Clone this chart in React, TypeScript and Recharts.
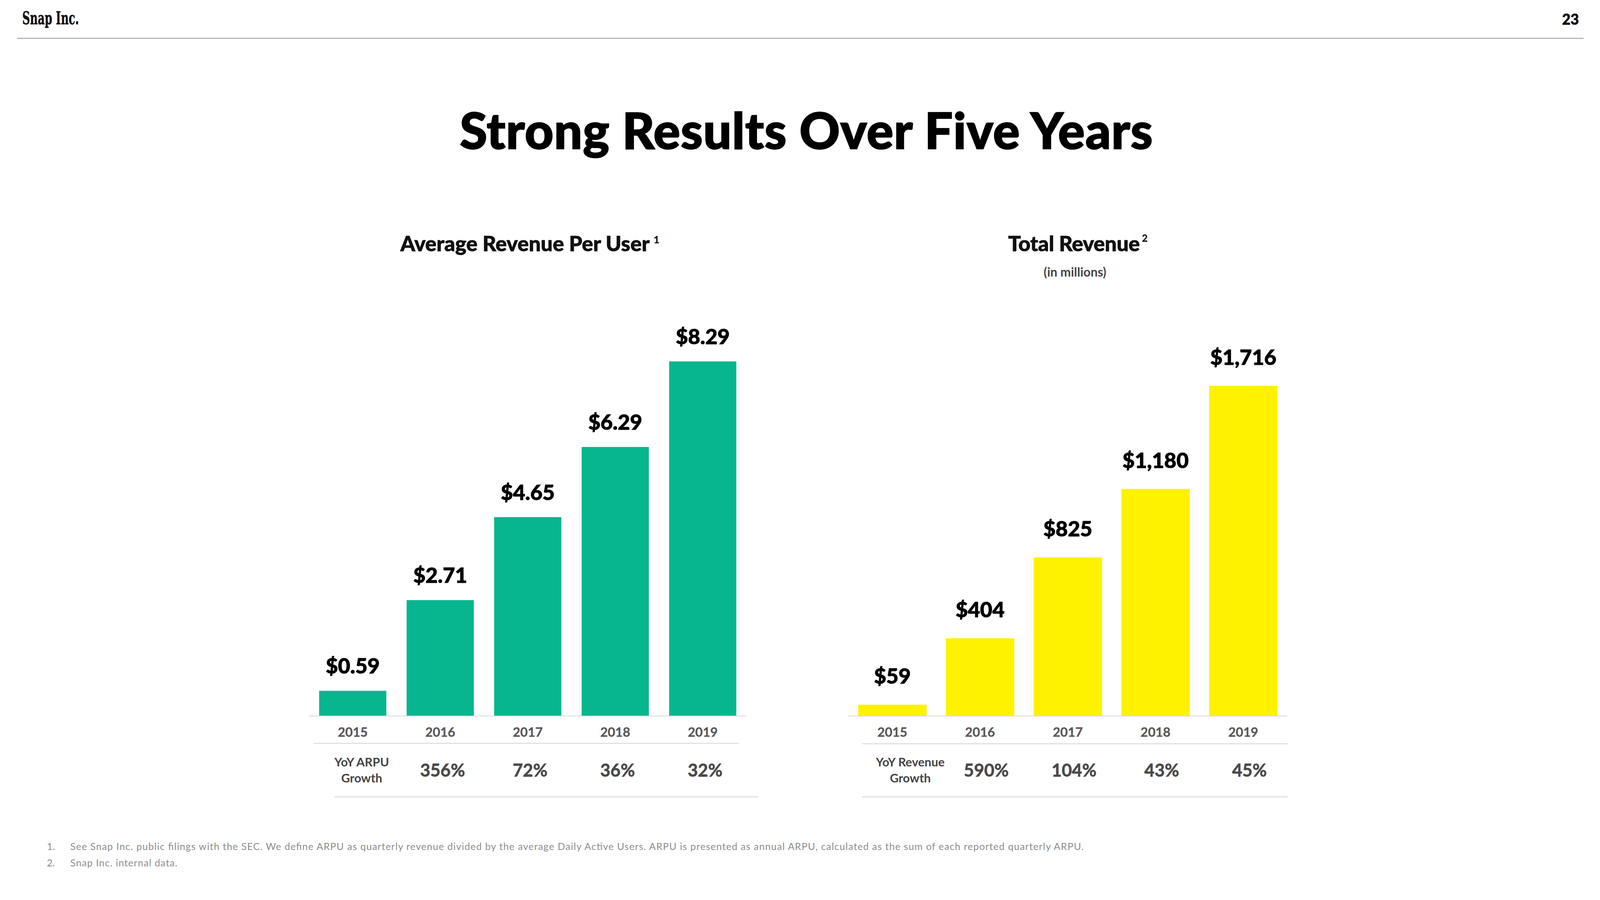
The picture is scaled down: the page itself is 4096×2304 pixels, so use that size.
import React from 'react';
import { BarChart, Bar, XAxis, YAxis, LabelList } from 'recharts';

const YEARS = ['2015', '2016', '2017', '2018', '2019'];
const ARPU = [0.59, 2.71, 4.65, 6.29, 8.29];
const ARPU_LABELS = ['$0.59', '$2.71', '$4.65', '$6.29', '$8.29'];
const ARPU_GROWTH = ['', '356%', '72%', '36%', '32%'];
const REVENUE = [59, 404, 825, 1180, 1716];
const REVENUE_LABELS = ['$59', '$404', '$825', '$1,180', '$1,716'];
const REVENUE_GROWTH = ['', '590%', '104%', '43%', '45%'];

const GREEN = '#07B68E';
const YELLOW = '#FFF200';
const FONT = "Lato, 'Open Sans', sans-serif";

const arpuData = YEARS.map((y, i) => ({ year: y, value: ARPU[i], label: ARPU_LABELS[i] }));
const revData = YEARS.map((y, i) => ({ year: y, value: REVENUE[i], label: REVENUE_LABELS[i] }));

function makeTick(growth: string[], rowLabel: string[], labelDx: number, valueDx: number) {
  return (props: any) => {
    const { x, y, payload, index } = props;
    return (
      <g fontFamily={FONT}>
        <text x={x} y={y + 53} textAnchor="middle" fontSize={33} fontWeight={700} fill="#595959" stroke="#595959" strokeWidth={0.5}>
          {payload.value}
        </text>
        {index === 0 ? (
          <g>
            <text x={x + labelDx} y={y + 129} textAnchor="middle" fontSize={31} fontWeight={700} fill="#444">
              {rowLabel[0]}
            </text>
            <text x={x + labelDx} y={y + 170} textAnchor="middle" fontSize={31} fontWeight={700} fill="#444">
              {rowLabel[1]}
            </text>
          </g>
        ) : (
          <text x={x + valueDx} y={y + 155} textAnchor="middle" fontSize={45} fontWeight={700} fill="#4a4a4a" stroke="#4a4a4a" strokeWidth={0.8}>
            {growth[index]}
          </text>
        )}
      </g>
    );
  };
}

function Panel(props: any) {
  const { data, color, domain, left, top, width, plotH, offset, growth, rowLabel, labelDx, valueDx, barSize } = props;
  return (
    <div style={{ position: 'absolute', left, top }}>
      <BarChart width={width} height={plotH + 240} data={data} margin={{ top: 0, right: 0, left: 0, bottom: 0 }}>
        <XAxis
          dataKey="year"
          height={240}
          tickLine={false}
          tickSize={0}
          tickMargin={0}
          interval={0}
          axisLine={{ stroke: '#d9d9d9', strokeWidth: 2 }}
          tick={makeTick(growth, rowLabel, labelDx, valueDx)}
        />
        <YAxis hide domain={domain} />
        <Bar dataKey="value" fill={color} isAnimationActive={false} barSize={barSize}>
          <LabelList
            dataKey="label"
            position="top"
            offset={offset}
            fill="#000"
            stroke="#000"
            strokeWidth={1.2}
            fontSize={54}
            fontWeight={900}
            fontFamily={FONT}
          />
        </Bar>
      </BarChart>
    </div>
  );
}

export default function App() {
  return (
    <div style={{ position: 'relative', width: 4096, height: 2304, background: '#fff', overflow: 'hidden' }}>
      <style>{'body{margin:0;background:#fff}'}</style>
      <Panel
        data={arpuData}
        color={GREEN}
        domain={[0, 10]}
        left={791}
        top={738}
        width={1120}
        plotH={1095}
        offset={44}
        growth={ARPU_GROWTH}
        rowLabel={['YoY ARPU', 'Growth']}
        labelDx={23}
        valueDx={6}
        barSize={172}
      />
      <Panel
        data={revData}
        color={YELLOW}
        domain={[0, 2000]}
        left={2172}
        top={848}
        width={1123}
        plotH={985}
        offset={54}
        growth={REVENUE_GROWTH}
        rowLabel={['YoY Revenue', 'Growth']}
        labelDx={46}
        valueDx={16}
        barSize={175}
      />
      <svg width={4096} height={2304} style={{ position: 'absolute', left: 0, top: 0, pointerEvents: 'none' }}>
        <text x={57} y={62} fontFamily="'DejaVu Serif', 'Liberation Serif', serif" fontWeight={700} fontSize={44} fill="#111" stroke="#111" strokeWidth={0.8} textLength={145} lengthAdjust="spacingAndGlyphs">
          Snap Inc.
        </text>
        <text x={4042} y={63} textAnchor="end" fontFamily={FONT} fontWeight={900} fontSize={37} fill="#111" stroke="#111" strokeWidth={1}>
          23
        </text>
        <line x1={44} x2={4054} y1={98} y2={98} stroke="#9a9a9a" strokeWidth={2} />
        <text x={2064} y={381} textAnchor="middle" fontFamily={FONT} fontWeight={900} fontSize={128} fill="#000" stroke="#000" strokeWidth={2.5} textLength={1774} lengthAdjust="spacing">
          Strong Results Over Five Years
        </text>
        <text x={1025} y={643} fontFamily={FONT} fontWeight={900} fontSize={54} fill="#111" stroke="#111" strokeWidth={1} textLength={638} lengthAdjust="spacing">
          Average Revenue Per User
        </text>
        <text x={1673} y={623} fontFamily={FONT} fontWeight={900} fontSize={26} fill="#111">1</text>
        <text x={2581} y={643} fontFamily={FONT} fontWeight={900} fontSize={54} fill="#111" stroke="#111" strokeWidth={1} textLength={337} lengthAdjust="spacing">
          Total Revenue
        </text>
        <text x={2923} y={619} fontFamily={FONT} fontWeight={900} fontSize={26} fill="#111">2</text>
        <text x={2752} y={708} textAnchor="middle" fontFamily={FONT} fontWeight={700} fontSize={32} fill="#444">
          (in millions)
        </text>
        <line x1={803} x2={1891} y1={1903} y2={1903} stroke="#dcdcdc" strokeWidth={2.5} />
        <line x1={856} x2={1941} y1={2040} y2={2040} stroke="#dcdcdc" strokeWidth={2.5} />
        <line x1={2207} x2={3296} y1={1904} y2={1904} stroke="#dcdcdc" strokeWidth={2.5} />
        <line x1={2207} x2={3296} y1={2040} y2={2040} stroke="#dcdcdc" strokeWidth={2.5} />
        <text x={120} y={2176} fontFamily={FONT} fontSize={25} fill="#8c8c8c">1.</text>
        <text x={180} y={2176} fontFamily={FONT} fontSize={25} fill="#8c8c8c" textLength={2594} lengthAdjust="spacing">
          See Snap Inc. public filings with the SEC. We define ARPU as quarterly revenue divided by the average Daily Active Users. ARPU is presented as annual ARPU, calculated as the sum of each reported quarterly ARPU.
        </text>
        <text x={120} y={2218} fontFamily={FONT} fontSize={25} fill="#8c8c8c">2.</text>
        <text x={180} y={2218} fontFamily={FONT} fontSize={25} fill="#8c8c8c" textLength={274} lengthAdjust="spacing">
          Snap Inc. internal data.
        </text>
      </svg>
    </div>
  );
}
